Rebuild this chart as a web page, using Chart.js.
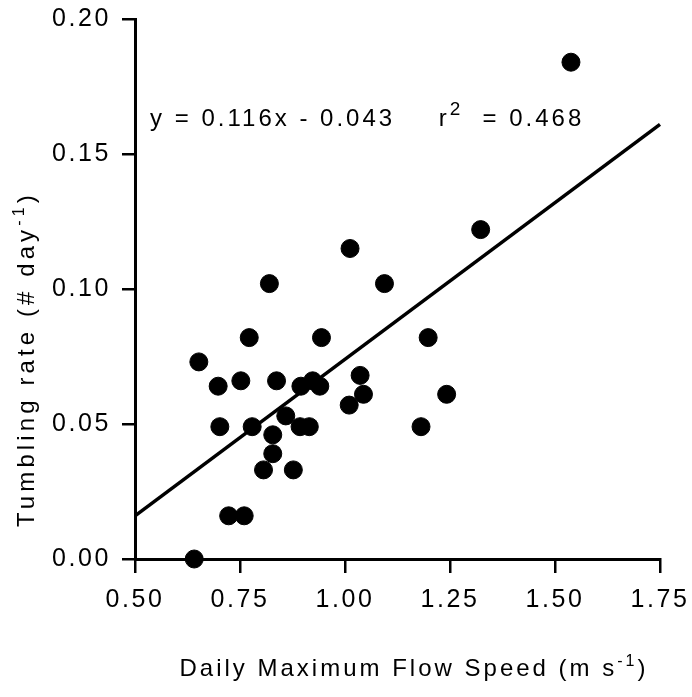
<!DOCTYPE html>
<html>
<head>
<meta charset="utf-8">
<script src="https://cdn.jsdelivr.net/npm/chart.js@4/dist/chart.umd.min.js"></script>
<style>
  html, body { margin: 0; padding: 0; background: #ffffff; }
  #wrap { width: 692px; height: 697px; position: relative; }
</style>
</head>
<body>
<div id="wrap"><canvas id="c" width="692" height="697"></canvas></div>
<script>
// ---- Data ----
const flowSpeed = [0.641, 0.652, 0.698, 0.702, 0.723, 0.760, 0.752, 0.772, 0.779, 0.820,
                   0.806, 0.828, 0.828, 0.837, 0.859, 0.877, 0.893, 0.915, 0.895, 0.923,
                   0.940, 0.944, 1.010, 1.094, 1.198, 1.036, 1.044, 1.242, 1.181, 1.538,
                   1.323, 1.012];
const tumblingRate = [0.000, 0.073, 0.064, 0.049, 0.016, 0.016, 0.066, 0.082, 0.049, 0.102,
                      0.033, 0.039, 0.046, 0.066, 0.053, 0.033, 0.049, 0.049, 0.064, 0.066,
                      0.064, 0.082, 0.057, 0.102, 0.082, 0.068, 0.061, 0.061, 0.049, 0.184,
                      0.122, 0.115];
const fitX = [0.50, 1.75];
const fitY = [0.016, 0.161];
const xTickValues = [0.50, 0.75, 1.00, 1.25, 1.50, 1.75];
const xTickLabels = ['0.50', '0.75', '1.00', '1.25', '1.50', '1.75'];
const yTickValues = [0.00, 0.05, 0.10, 0.15, 0.20];
const yTickLabels = ['0.00', '0.05', '0.10', '0.15', '0.20'];
const equationText = 'y = 0.116x - 0.043';
const r2Label = 'r';
const r2Sup = '2';
const r2Value = '  = 0.468';
const xTitleMain = 'Daily Maximum Flow Speed (m s';
const xTitleSup = '-1';
const xTitleEnd = ')';
const yTitleMain = 'Tumbling rate (# day';
const yTitleSup = '-1';
const yTitleEnd = ')';

const FONT = '"Liberation Sans", Arial, Helvetica, sans-serif';
const SPACING = '2.6px';

const scatterData = flowSpeed.map((x, i) => ({ x: x, y: tumblingRate[i] }));
const fitData = fitX.map((x, i) => ({ x: x, y: fitY[i] }));

function drawWithSup(ctx, parts, x, y, mainSize, supSize, raise) {
  let cx = x;
  ctx.font = mainSize + 'px ' + FONT;
  ctx.fillText(parts[0], cx, y);
  cx += ctx.measureText(parts[0]).width;
  ctx.font = supSize + 'px ' + FONT;
  ctx.fillText(parts[1], cx, y - raise);
  cx += ctx.measureText(parts[1]).width;
  ctx.font = mainSize + 'px ' + FONT;
  ctx.fillText(parts[2], cx, y);
  cx += ctx.measureText(parts[2]).width;
  return cx - x;
}
function measureWithSup(ctx, parts, mainSize, supSize) {
  let w = 0;
  ctx.font = mainSize + 'px ' + FONT;
  w += ctx.measureText(parts[0]).width + ctx.measureText(parts[2]).width;
  ctx.font = supSize + 'px ' + FONT;
  w += ctx.measureText(parts[1]).width;
  return w;
}

const textPlugin = {
  id: 'textPlugin',
  beforeDraw(chart) {
    chart.ctx.letterSpacing = SPACING;
  },
  afterDraw(chart) {
    const ctx = chart.ctx;
    const xs = chart.scales.x, ys = chart.scales.y;
    ctx.save();
    ctx.fillStyle = '#000';
    ctx.textAlign = 'left';
    ctx.textBaseline = 'alphabetic';

    // Regression equation annotation
    ctx.letterSpacing = '3px';
    ctx.font = '24px ' + FONT;
    const ex = xs.getPixelForValue(0.536);
    const ey = ys.getPixelForValue(0.1605);
    ctx.fillText(equationText, ex, ey);
    const rx = xs.getPixelForValue(1.223);
    drawWithSup(ctx, [r2Label, r2Sup, r2Value], rx, ey, 24, 19, 11);

    // X axis title
    ctx.letterSpacing = '3px';
    const xParts = [xTitleMain, xTitleSup, xTitleEnd];
    const xw = measureWithSup(ctx, xParts, 24, 16);
    drawWithSup(ctx, xParts, 414 - xw / 2, 676, 24, 16, 10);

    // Y axis title (rotated)
    ctx.letterSpacing = '4.1px';
    const yParts = [yTitleMain, yTitleSup, yTitleEnd];
    ctx.translate(34, 527);
    ctx.rotate(-Math.PI / 2);
    drawWithSup(ctx, yParts, 0, 0, 24, 16, 10);
    ctx.restore();
  }
};

const chart = new Chart(document.getElementById('c'), {
  type: 'scatter',
  data: {
    datasets: [
      {
        type: 'scatter',
        data: scatterData,
        backgroundColor: '#000',
        borderColor: '#000',
        pointRadius: 9,
        pointHoverRadius: 9,
        clip: false
      },
      {
        type: 'line',
        data: fitData,
        borderColor: '#000',
        borderWidth: 3.5,
        pointRadius: 0,
        fill: false,
        clip: false
      }
    ]
  },
  options: {
    responsive: false,
    animation: false,
    devicePixelRatio: 1,
    layout: { padding: { left: 0, right: 32, top: 19, bottom: 0 } },
    plugins: {
      legend: { display: false },
      tooltip: { enabled: false },
      title: { display: false }
    },
    scales: {
      x: {
        type: 'linear',
        min: 0.5,
        max: 1.75,
        afterBuildTicks(scale) { scale.ticks = xTickValues.map(v => ({ value: v })); },
        afterFit(scale) { scale.height = 697 - 559; scale.paddingLeft = 0; scale.paddingRight = 0; },
        ticks: {
          color: '#000',
          font: { family: FONT, size: 25 },
          padding: 12,
          maxRotation: 0,
          autoSkip: false,
          callback: (v, i) => xTickLabels[i]
        },
        grid: {
          drawOnChartArea: false,
          drawTicks: true,
          tickLength: 14,
          color: '#000',
          lineWidth: 2.5
        },
        border: { display: true, color: '#000', width: 3 }
      },
      y: {
        type: 'linear',
        min: 0,
        max: 0.2,
        afterBuildTicks(scale) { scale.ticks = yTickValues.map(v => ({ value: v })); },
        afterFit(scale) { scale.width = 135; scale.paddingTop = 0; scale.paddingBottom = 0; },
        ticks: {
          color: '#000',
          font: { family: FONT, size: 25 },
          padding: 11,
          autoSkip: false,
          callback: (v, i) => yTickLabels[i]
        },
        grid: {
          drawOnChartArea: false,
          drawTicks: true,
          tickLength: 13,
          color: '#000',
          lineWidth: 2.5
        },
        border: { display: true, color: '#000', width: 3 }
      }
    }
  },
  plugins: [textPlugin]
});
</script>
</body>
</html>
